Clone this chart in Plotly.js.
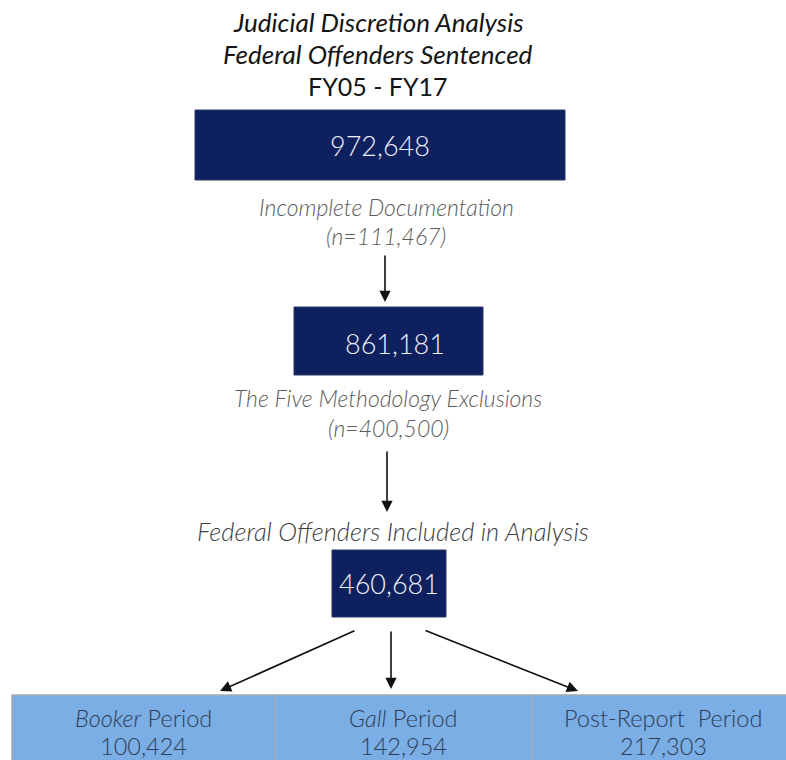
<!DOCTYPE html>
<html>
<head>
<meta charset="utf-8">
<script src="https://cdn.plot.ly/plotly-3.0.1.min.js"></script>
<style>
  html, body { margin: 0; padding: 0; background: #ffffff; }
  #chart { width: 786px; height: 760px; }
</style>
</head>
<body>
<div id="chart"></div>
<script>
// ---- data ----
const titleLines = ["Judicial Discretion Analysis", "Federal Offenders Sentenced", "FY05 - FY17"];
const stageCounts = [972648, 861181, 460681];
const exclusionLabels = ["Incomplete Documentation", "The Five Methodology Exclusions"];
const exclusionCounts = [111467, 400500];
const includedLabel = "Federal Offenders Included in Analysis";
const periodLabels = ["<i>Booker</i> Period", "<i>Gall</i> Period", "Post-Report  Period"];
const periodCounts = [100424, 142954, 217303];

// ---- layout geometry (axis units = pixels) ----
const fmt = n => n.toLocaleString('en-US');
const FONT = 'Lato, "Open Sans", sans-serif';
const navy = '#0f205e';
const band = '#7aaee4';

const boxes = [
  {x0: 195, x1: 565, y0: 110, y1: 180, tx: 380, ty: 145},
  {x0: 294, x1: 483, y0: 307, y1: 375, tx: 395, ty: 343},
  {x0: 332, x1: 446, y0: 550, y1: 617, tx: 389, ty: 583}
];
const exclPos = [{x: 386, y1: 207, y2: 236}, {x: 388, y1: 398, y2: 428}];
const cells = [{x0: 12, x1: 275}, {x0: 275, x1: 532}, {x0: 532, x1: 794}];
const bandY0 = 695, bandY1 = 775;

const shapes = [];
const annotations = [];

titleLines.forEach((t, i) => {
  annotations.push({
    x: 378, y: 22 + 32 * i, xref: 'x', yref: 'y', showarrow: false,
    text: i < 2 ? '<i>' + t + '</i>' : t,
    font: {family: FONT, size: i < 2 ? 26 : 25, color: '#141414', weight: 400},
    xanchor: 'center', yanchor: 'middle'
  });
});

stageCounts.forEach((v, i) => {
  const b = boxes[i];
  shapes.push({type: 'rect', xref: 'x', yref: 'y', x0: b.x0, x1: b.x1, y0: b.y0, y1: b.y1,
    fillcolor: navy, line: {color: '#2a3566', width: 1}});
  annotations.push({x: b.tx, y: b.ty, xref: 'x', yref: 'y', showarrow: false,
    text: fmt(v), font: {family: FONT, size: 27, color: '#eef1f8', weight: 300},
    xanchor: 'center', yanchor: 'middle'});
});

exclusionLabels.forEach((t, i) => {
  const p = exclPos[i];
  annotations.push({x: p.x, y: p.y1, xref: 'x', yref: 'y', showarrow: false,
    text: '<i>' + t + '</i>', font: {family: FONT, size: 23, color: '#5c5c5c', weight: 300},
    xanchor: 'center', yanchor: 'middle'});
  annotations.push({x: p.x, y: p.y2, xref: 'x', yref: 'y', showarrow: false,
    text: '<i>(n=' + fmt(exclusionCounts[i]) + ')</i>', font: {family: FONT, size: 23, color: '#5c5c5c', weight: 300},
    xanchor: 'center', yanchor: 'middle'});
});

annotations.push({x: 393, y: 531, xref: 'x', yref: 'y', showarrow: false,
  text: '<i>' + includedLabel + '</i>', font: {family: FONT, size: 25.5, color: '#404040', weight: 300},
  xanchor: 'center', yanchor: 'middle'});

// arrows
const arrows = [
  {ax: 385, ay: 254, x: 385, y: 302},
  {ax: 387, ay: 450, x: 387, y: 512},
  {ax: 356, ay: 630, x: 220, y: 691},
  {ax: 391, ay: 630, x: 391, y: 689},
  {ax: 424, ay: 630, x: 578, y: 691}
];
arrows.forEach(a => {
  annotations.push({x: a.x, y: a.y, ax: a.ax, ay: a.ay, xref: 'x', yref: 'y', axref: 'x', ayref: 'y',
    text: '', showarrow: true, arrowhead: 2, arrowsize: 1.4, arrowwidth: 1.6, arrowcolor: '#111111', standoff: 0});
});

// bottom band
cells.forEach((c, i) => {
  shapes.push({type: 'rect', xref: 'x', yref: 'y', x0: c.x0, x1: c.x1, y0: bandY0, y1: bandY1,
    fillcolor: band, line: {color: '#a3abb5', width: 1.5}});
  const cx = (c.x0 + c.x1) / 2;
  annotations.push({x: cx, y: 718, xref: 'x', yref: 'y', showarrow: false,
    text: periodLabels[i], font: {family: FONT, size: 23.5, color: '#2e3d58', weight: 300},
    xanchor: 'center', yanchor: 'middle'});
  annotations.push({x: cx, y: 746, xref: 'x', yref: 'y', showarrow: false,
    text: fmt(periodCounts[i]), font: {family: FONT, size: 23.5, color: '#2e3d58', weight: 300},
    xanchor: 'center', yanchor: 'middle'});
});

const layout = {
  width: 786, height: 760,
  margin: {l: 0, r: 0, t: 0, b: 0},
  paper_bgcolor: '#ffffff', plot_bgcolor: '#ffffff',
  xaxis: {range: [0, 786], visible: false, fixedrange: true},
  yaxis: {range: [760, 0], visible: false, fixedrange: true},
  showlegend: false,
  shapes: shapes,
  annotations: annotations
};

Plotly.newPlot('chart', [{x: [], y: [], type: 'scatter', mode: 'markers', hoverinfo: 'skip'}], layout, {staticPlot: true});
</script>
</body>
</html>
